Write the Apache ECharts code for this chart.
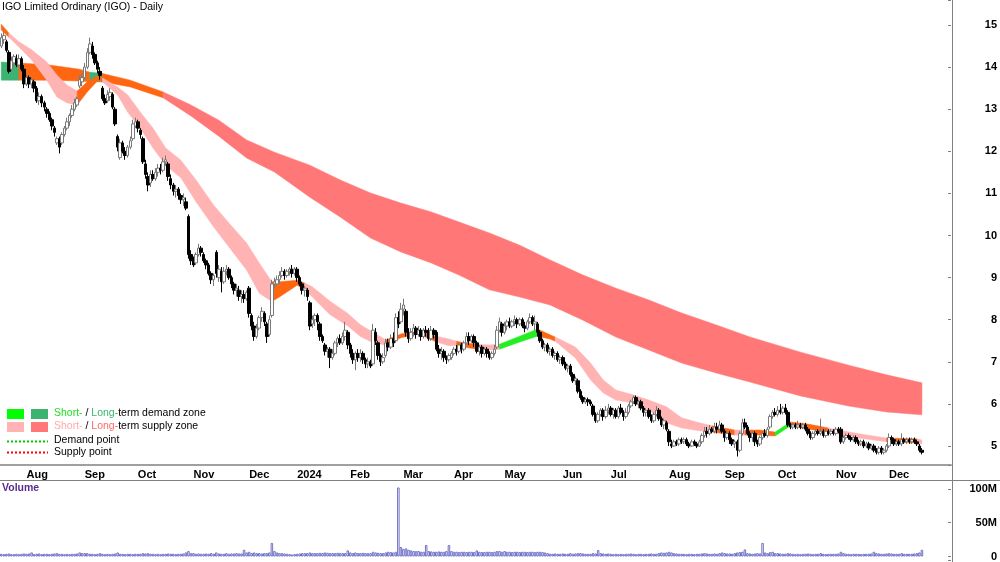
<!DOCTYPE html>
<html>
<head>
<meta charset="utf-8">
<title>IGO Limited Ordinary (IGO) - Daily</title>
<script src="https://cdn.jsdelivr.net/npm/echarts@6/dist/echarts.min.js"></script>
<style>
  html, body { margin: 0; padding: 0; background: #fff; }
  #main { width: 1000px; height: 562px; }
</style>
</head>
<body>
<div id="main"></div>
<script>
// trading days: 18 Jul 2023 .. 19 Dec 2024, plus empty days to the right edge
var months = ['Jul', 'Aug', 'Sep', 'Oct', 'Nov', 'Dec', '2024', 'Feb', 'Mar', 'Apr', 'May', 'Jun', 'Jul', 'Aug', 'Sep', 'Oct', 'Nov', 'Dec'];
var monthDays = [10, 23, 21, 22, 22, 19, 21, 21, 20, 20, 23, 19, 23, 22, 21, 23, 21, 14];
var padDays = 11;

// [open, close, low, high]
var candles = [
  // Jul 23
  [14.5,14.7,14.45,14.8],[14.65,14.75,14.55,14.85],[14.6,14.4,14.35,14.65],[14.35,13.9,13.85,14.4],[13.95,14.15,13.9,14.25],
  [14.1,14.25,14.0,14.3],[14.2,14.05,14.0,14.3],[14.05,14.2,14.0,14.3],[14.2,13.95,13.9,14.25],[13.95,13.6,13.5,14.05],
  // Aug 23
  [13.6,13.75,13.55,13.85],[13.75,13.6,13.5,13.8],[13.6,13.7,13.5,13.75],[13.65,13.5,13.4,13.7],[13.5,13.2,13.15,13.55],
  [13.2,13.3,13.1,13.4],[13.3,13.15,13.05,13.35],[13.15,13.05,12.95,13.2],[13.0,12.9,12.8,13.05],[12.9,12.75,12.7,12.95],
  [12.75,12.6,12.5,12.8],[12.55,12.45,12.35,12.6],[12.2,12.3,12.15,12.35],[12.3,12.1,11.95,12.35],[12.2,12.4,12.15,12.45],
  [12.4,12.55,12.35,12.6],[12.55,12.7,12.5,12.8],[12.7,12.85,12.6,12.9],[12.85,13.0,12.8,13.1],[13.0,13.15,12.95,13.25],
  [13.1,13.25,13.05,13.3],[13.55,13.7,13.5,13.8],[13.65,13.75,13.55,13.85],
  // Sep 23
  [13.75,14.0,13.7,14.1],[14.0,14.35,13.95,14.45],[14.35,14.55,14.3,14.7],[14.5,14.3,14.2,14.6],[14.3,14.1,14.05,14.35],
  [14.1,13.95,13.85,14.15],[13.9,13.8,13.7,14.0],[13.5,13.25,13.2,13.55],[13.25,13.15,13.1,13.35],[13.2,13.35,13.15,13.45],
  [13.3,13.4,13.2,13.5],[13.35,13.05,13.0,13.4],[13.0,12.65,12.6,13.05],[12.35,12.1,12.0,12.4],[11.85,12.2,11.8,12.3],
  [12.2,12.0,11.95,12.25],[12.0,11.9,11.8,12.1],[11.9,12.1,11.85,12.15],[12.1,12.25,12.05,12.35],[12.3,12.65,12.25,12.75],
  [12.6,12.7,12.55,12.8],
  // Oct 23
  [12.7,12.55,12.45,12.75],[12.5,12.4,12.3,12.55],[12.3,11.75,11.7,12.35],[11.7,11.45,11.35,11.8],[11.4,11.2,11.05,11.5],
  [11.25,11.45,11.15,11.55],[11.45,11.35,11.3,11.55],[11.35,11.5,11.3,11.6],[11.5,11.6,11.4,11.7],[11.6,11.55,11.45,11.7],
  [11.55,11.75,11.5,11.85],[11.75,11.8,11.65,11.9],[11.7,11.4,11.3,11.75],[11.35,11.2,11.1,11.45],[11.2,11.05,10.95,11.25],
  [11.05,11.1,10.9,11.2],[11.1,10.95,10.85,11.15],[10.95,10.85,10.75,11.0],[10.85,10.9,10.7,11.0],[10.8,10.65,10.6,10.9],
  [10.45,9.55,9.45,10.5],[9.55,9.4,9.3,9.65],
  // Nov 23
  [9.4,9.3,9.25,9.5],[9.35,9.55,9.3,9.6],[9.55,9.7,9.5,9.8],[9.7,9.6,9.5,9.75],[9.55,9.4,9.35,9.6],
  [9.4,9.3,9.2,9.45],[9.3,9.1,9.05,9.35],[9.1,8.95,8.85,9.15],[8.95,9.05,8.8,9.1],[9.6,9.1,9.0,9.65],
  [9.0,9.2,8.9,9.3],[9.15,8.9,8.65,9.25],[8.9,9.15,8.85,9.25],[9.15,9.2,9.05,9.3],[9.2,9.0,8.95,9.25],
  [9.0,8.85,8.75,9.05],[8.85,8.7,8.6,8.9],[8.7,8.75,8.55,8.85],[8.7,8.55,8.45,8.8],[8.55,8.6,8.4,8.7],
  [8.6,8.5,8.4,8.7],[8.5,8.65,8.45,8.7],
  // Dec 23
  [8.75,8.15,8.05,8.8],[8.1,7.85,7.75,8.15],[7.85,7.6,7.5,7.95],[7.6,7.8,7.55,7.9],[7.8,8.05,7.75,8.1],
  [8.05,8.2,7.95,8.3],[8.15,7.95,7.85,8.2],[7.9,7.6,7.45,7.95],[7.65,8.0,7.6,8.1],[8.1,8.85,8.05,8.95],
  [8.85,8.9,8.75,9.0],[8.85,8.95,8.8,9.05],[8.95,9.05,8.85,9.15],[9.05,9.15,9.0,9.25],[9.15,9.05,8.95,9.2],
  [9.05,9.15,9.0,9.2],[9.15,9.2,9.05,9.25],[9.2,9.1,9.0,9.3],[9.1,9.2,9.05,9.25],
  // Jan 24
  [9.2,9.0,8.9,9.25],[9.0,8.85,8.8,9.05],[8.85,8.7,8.6,8.9],[8.7,8.75,8.55,8.8],[8.7,8.55,8.45,8.75],
  [8.4,7.85,7.75,8.45],[7.9,8.0,7.8,8.1],[8.0,8.1,7.85,8.15],[8.1,7.95,7.75,8.15],[7.9,7.6,7.5,7.95],
  [7.6,7.5,7.45,7.65],[7.4,7.25,7.15,7.45],[7.25,7.3,7.1,7.35],[7.3,7.1,6.85,7.35],[7.1,7.2,7.05,7.3],
  [7.2,7.45,7.15,7.5],[7.45,7.55,7.35,7.6],[7.55,7.45,7.4,7.65],[7.45,7.6,7.4,7.7],[7.6,7.75,7.5,7.95],
  [7.7,7.4,7.3,7.75],
  // Feb 24
  [7.4,7.2,7.1,7.45],[7.2,7.05,6.95,7.3],[7.05,7.2,6.8,7.25],[7.2,7.1,7.0,7.3],[7.1,7.2,7.0,7.3],
  [7.2,7.05,6.95,7.25],[7.05,6.95,6.85,7.1],[6.95,7.0,6.85,7.1],[7.0,6.9,6.85,7.05],[6.95,7.75,6.9,7.9],
  [7.7,7.5,7.4,7.8],[7.45,7.15,7.05,7.5],[7.15,7.0,6.9,7.2],[7.0,7.1,6.95,7.2],[7.15,7.45,7.1,7.55],
  [7.45,7.35,7.25,7.55],[7.35,7.55,7.3,7.65],[7.55,7.45,7.35,7.7],[7.5,8.05,7.45,8.15],[8.05,7.9,7.8,8.2],
  [7.95,8.25,7.9,8.4],
  // Mar 24
  [8.25,8.35,8.1,8.5],[8.2,7.7,7.6,8.25],[7.7,7.55,7.45,7.8],[7.55,7.7,7.5,7.8],[7.7,7.8,7.6,7.9],
  [7.8,7.65,7.55,7.85],[7.65,7.75,7.6,7.85],[7.75,7.6,7.5,7.8],[7.6,7.75,7.55,7.8],[7.75,7.7,7.6,7.85],
  [7.7,7.55,7.5,7.8],[7.55,7.75,7.5,7.85],[7.75,7.65,7.55,7.8],[7.7,7.3,7.25,7.75],[7.3,7.2,7.1,7.4],
  [7.2,7.25,7.05,7.35],[7.25,7.1,7.0,7.3],[7.1,7.05,6.95,7.15],[7.05,7.15,7.0,7.2],[7.1,7.2,7.05,7.25],
  // Apr 24
  [7.2,7.3,7.15,7.35],[7.3,7.25,7.15,7.4],[7.25,7.4,7.2,7.45],[7.4,7.3,7.2,7.45],[7.3,7.45,7.25,7.5],
  [7.45,7.6,7.4,7.7],[7.6,7.5,7.4,7.7],[7.5,7.6,7.45,7.65],[7.6,7.45,7.35,7.65],[7.45,7.25,7.2,7.5],
  [7.25,7.35,7.15,7.4],[7.35,7.2,7.1,7.4],[7.2,7.3,7.15,7.35],[7.3,7.2,7.1,7.35],[7.2,7.1,7.05,7.25],
  [7.1,7.2,7.05,7.25],[7.2,7.3,7.15,7.4],[7.35,7.75,7.3,7.85],[7.75,7.95,7.7,8.05],[7.9,7.7,7.6,7.95],
  // May 24
  [7.7,7.85,7.65,7.95],[7.85,7.95,7.75,8.0],[7.95,7.85,7.8,8.05],[7.85,7.95,7.8,8.0],[7.95,8.0,7.85,8.1],
  [8.0,7.9,7.8,8.05],[7.9,8.0,7.85,8.05],[8.0,7.85,7.8,8.05],[7.85,7.8,7.7,7.95],[7.8,7.95,7.75,8.0],
  [7.95,8.05,7.9,8.15],[8.05,7.9,7.85,8.1],[7.9,7.95,7.75,8.1],[7.9,7.7,7.6,7.95],[7.7,7.5,7.45,7.75],
  [7.5,7.35,7.3,7.55],[7.35,7.4,7.25,7.45],[7.4,7.25,7.2,7.45],[7.25,7.3,7.15,7.35],[7.3,7.15,7.1,7.35],
  [7.15,7.2,7.05,7.25],[7.2,7.05,7.0,7.25],[7.05,7.1,6.95,7.15],
  // Jun 24
  [7.1,6.95,6.9,7.15],[6.95,6.85,6.8,7.0],[6.85,6.9,6.75,6.95],[6.9,6.7,6.65,6.95],[6.7,6.55,6.5,6.75],
  [6.55,6.6,6.45,6.65],[6.55,6.3,6.25,6.6],[6.3,6.15,6.1,6.35],[6.15,6.05,6.0,6.2],[6.05,6.1,6.0,6.15],
  [6.1,6.05,5.95,6.15],[6.05,6.0,5.95,6.1],[5.95,5.75,5.7,6.0],[5.75,5.6,5.55,5.8],[5.6,5.75,5.55,5.8],
  [5.75,5.85,5.7,5.9],[5.85,5.7,5.6,5.9],[5.7,5.85,5.65,5.95],[5.85,5.9,5.75,6.0],
  // Jul 24
  [5.9,5.75,5.7,5.95],[5.75,5.85,5.65,5.9],[5.85,5.7,5.65,5.9],[5.7,5.9,5.65,5.95],[5.9,5.8,5.75,6.0],
  [5.8,5.7,5.6,5.85],[5.7,5.8,5.65,5.9],[5.8,5.95,5.75,6.0],[5.95,6.05,5.9,6.1],[6.05,6.15,6.0,6.2],
  [6.15,6.0,5.95,6.2],[6.0,6.05,5.9,6.1],[6.05,5.9,5.85,6.1],[5.9,5.8,5.7,5.95],[5.8,5.85,5.7,5.9],
  [5.85,5.7,5.65,5.9],[5.7,5.6,5.55,5.75],[5.6,5.75,5.55,5.8],[5.75,5.85,5.7,5.95],[5.85,5.65,5.6,5.9],
  [5.65,5.5,5.45,5.7],[5.5,5.6,5.4,5.65],[5.55,5.4,5.35,5.6],
  // Aug 24
  [5.35,5.1,5.0,5.4],[5.05,5.0,4.95,5.15],[5.0,5.1,4.98,5.15],[5.1,5.05,5.0,5.15],[5.05,5.15,5.0,5.2],
  [5.15,5.1,5.05,5.2],[5.1,5.15,5.05,5.2],[5.15,5.05,5.0,5.2],[5.05,5.0,4.95,5.1],[5.0,5.1,4.98,5.15],
  [5.1,5.05,5.0,5.15],[5.05,5.0,4.95,5.1],[5.0,5.1,4.98,5.15],[5.1,5.25,5.05,5.3],[5.25,5.35,5.2,5.45],
  [5.35,5.3,5.2,5.45],[5.3,5.4,5.25,5.5],[5.4,5.35,5.3,5.45],[5.35,5.45,5.3,5.55],[5.45,5.4,5.3,5.55],
  [5.4,5.5,5.35,5.6],[5.5,5.35,5.3,5.55],
  // Sep 24
  [5.35,5.2,5.1,5.4],[5.2,5.3,5.15,5.35],[5.3,5.15,5.05,5.35],[5.15,5.05,5.0,5.2],[5.05,5.1,4.95,5.15],
  [5.1,4.9,4.75,5.15],[4.9,5.3,4.85,5.35],[5.3,5.55,5.25,5.65],[5.55,5.45,5.4,5.65],[5.45,5.3,5.25,5.5],
  [5.3,5.2,5.1,5.35],[5.2,5.3,5.1,5.35],[5.3,5.1,5.0,5.35],[5.1,5.05,4.98,5.15],[5.05,5.2,5.0,5.25],
  [5.2,5.3,5.15,5.35],[5.3,5.25,5.2,5.4],[5.25,5.4,5.2,5.45],[5.45,5.7,5.4,5.75],[5.7,5.8,5.65,5.85],
  [5.8,5.75,5.7,5.9],
  // Oct 24
  [5.75,5.85,5.7,5.95],[5.85,5.8,5.75,6.0],[5.8,5.9,5.75,5.95],[5.9,5.8,5.75,6.0],[5.8,5.5,5.45,5.85],
  [5.5,5.45,5.4,5.55],[5.45,5.5,5.4,5.55],[5.5,5.45,5.4,5.55],[5.45,5.5,5.4,5.6],[5.5,5.45,5.4,5.55],
  [5.45,5.5,5.4,5.55],[5.5,5.4,5.35,5.55],[5.4,5.3,5.25,5.45],[5.3,5.2,5.15,5.35],[5.2,5.3,5.15,5.35],
  [5.3,5.35,5.25,5.4],[5.35,5.3,5.25,5.4],[5.3,5.35,5.25,5.65],[5.35,5.25,5.2,5.4],[5.25,5.35,5.2,5.4],
  [5.35,5.3,5.25,5.4],[5.3,5.35,5.25,5.4],[5.35,5.3,5.25,5.4],
  // Nov 24
  [5.3,5.4,5.25,5.45],[5.4,5.35,5.3,5.45],[5.4,5.1,5.05,5.45],[5.1,5.2,5.05,5.25],[5.2,5.25,5.15,5.3],
  [5.25,5.2,5.15,5.3],[5.2,5.15,5.1,5.25],[5.15,5.2,5.1,5.25],[5.2,5.1,5.05,5.25],[5.1,5.05,5.0,5.15],
  [5.05,5.1,5.0,5.15],[5.1,5.0,4.95,5.15],[5.0,5.05,4.95,5.1],[5.05,4.95,4.9,5.1],[4.95,5.0,4.9,5.05],
  [5.0,4.9,4.85,5.05],[4.9,4.85,4.8,4.95],[4.85,4.95,4.8,5.0],[4.95,4.85,4.8,5.0],[4.85,4.9,4.8,4.95],
  [4.9,5.0,4.85,5.05],
  // Dec 24
  [5.0,5.2,4.95,5.3],[5.2,5.15,5.05,5.25],[5.15,5.05,5.0,5.2],[5.05,5.1,5.0,5.15],[5.1,5.05,5.0,5.15],
  [5.05,5.15,5.0,5.3],[5.15,5.1,5.05,5.2],[5.1,5.15,5.05,5.2],[5.15,5.1,5.05,5.2],[5.1,5.15,5.05,5.2],
  [5.15,5.1,5.05,5.2],[5.1,5.05,5.0,5.15],[5.0,4.9,4.85,5.05],[4.9,4.85,4.8,4.95]
];

// daily volume, millions
var volumes = [
  4,3.5,4,4.5,3.5,3.5,4,3.5,4,4.5,
  4,4.5,6,3.5,4,4.5,3.5,4,4,3.5,4,4.5,5,4,4,3.5,4,3.5,4,4,4.5,6,5,
  5,5,4,4,3.5,4,5,4,3.5,4,3.5,4,4.5,6,4,4,3.5,4,4,3.5,4,
  4,4,5,4.5,5,4,4,3.5,4,3.5,4,4,4.5,4,4,3.5,4,4,4.5,6,8,5,
  5,4,4.5,4,4,4.5,4,5,4,6,4.5,4,4,5,4,4.5,4.5,5,4.5,4.5,10,6,
  7,5,6,5,5,4.5,5,5,6,20,8,6,5,5,4.5,4,3.5,3,3.5,
  4,4.5,5,5,5,6,5,5,5,5.5,5,6,5.5,5,5,5,5.5,5,5,5,9,
  6,5,6,5,5,5.5,5,5,5,7,6,5.5,5,5,6,7,6.5,6,7,102,14,
  11,12,10,9,8,8,8,7,7,17,8,7.5,7,7,7.5,7,7,8,17,8,
  7,7,6.5,7,7,6.5,7,7,6.5,9,7,6.5,6.5,7,7,6.5,7,8,8,7,
  8,7,7,6.5,7,7,6.5,7,7,6.5,7,7,6.5,7,7,6.5,6,5,4,4,4.5,4,4,
  4.5,4,4,5,4,4.5,5,5,4.5,4,4,4,5,4.5,9.5,5,4.5,4,4.5,
  4,3.5,4,3.5,4,3.5,4,4,4.5,4,3.5,4,4,3.5,4,4,4.5,4,4,5,6,5.5,6,
  7,6,5,4.5,4,4,4,3.5,4,4,3.5,4,4,4.5,5,4.5,4,4,4.5,4,5,6,
  5,4.5,4.5,4,5,6,6.5,7,10.5,5,4.5,4,4.5,5,4.5,20,6,5,6.5,7,5,
  5,4.5,4,4,5,4.5,4,3.5,4,3.5,4,4,4.5,4,3.5,4,4,5,4,3.5,4,4,4,
  4,4.5,7,5,4,4,3.5,4,4,4,3.5,4,4,4,4.5,7,5,4.5,4,4,4.5,
  5,4.5,4,4,4,5,4,4,4,4,4.5,5,6,10
];

// bands: [day index, upper, lower, zone]
// zone: s = short-term supply, d = short-term demand, R = long-term supply, G = long-term demand, o = crossed
var shortBand = [
  [0,15.02,14.88,'o'],[3,14.81,14.71,'s'],[7,14.60,14.48,'s'],[12,14.41,14.17,'s'],[18,14.12,13.69,'s'],
  [22,13.81,13.29,'s'],[26,13.57,13.15,'s'],[30,13.43,13.10,'o'],[34,13.65,13.41,'o'],[38,13.79,13.67,'o'],
  [40,13.74,13.65,'s'],[46,13.53,13.34,'s'],[50,13.34,12.93,'s'],[55,12.93,12.55,'s'],[60,12.55,12.08,'s'],
  [65,12.08,11.67,'s'],[71,11.79,11.37,'s'],[77,11.32,10.80,'s'],[84,10.72,10.20,'s'],[90,10.30,9.73,'s'],
  [97,9.82,9.18,'s'],[102,9.35,8.63,'s'],[107,8.90,8.43,'o'],[110,8.90,8.54,'o'],[117,8.94,8.82,'o'],
  [120,8.87,8.71,'s'],[123,8.78,8.54,'s'],[130,8.44,8.12,'s'],[137,8.15,7.85,'s'],[142,7.88,7.60,'s'],
  [147,7.70,7.45,'s'],[152,7.52,7.40,'o'],[158,7.66,7.57,'o'],[165,7.76,7.66,'o'],[172,7.61,7.47,'s'],
  [177,7.54,7.38,'s'],[180,7.49,7.38,'o'],[183,7.45,7.35,'o'],[188,7.42,7.30,'s'],[193,7.40,7.28,'s'],
  [197,7.42,7.30,'d'],[205,7.61,7.47,'d'],[212,7.78,7.61,'o'],[217,7.64,7.54,'o'],[219,7.59,7.49,'s'],
  [227,7.35,7.09,'s'],[233,6.97,6.57,'s'],[238,6.57,6.26,'s'],[243,6.33,6.09,'s'],[250,6.21,6.02,'s'],
  [256,6.09,5.86,'s'],[263,5.93,5.55,'s'],[269,5.67,5.43,'s'],[276,5.55,5.36,'s'],[281,5.48,5.33,'o'],
  [290,5.38,5.26,'s'],[294,5.38,5.26,'o'],[300,5.38,5.26,'o'],[306,5.33,5.24,'d'],[312,5.57,5.48,'o'],
  [319,5.52,5.40,'o'],[327,5.43,5.33,'s'],[339,5.29,5.19,'s'],[350,5.19,5.10,'o'],[362,5.17,5.07,'s'],
  [364,5.14,5.05,'s']
];
var longBand = [
  [0,14.12,13.69,'G'],[7,14.10,13.69,'o'],[19,14.05,13.69,'o'],[31,13.95,13.67,'o'],[35,13.88,13.65,'G'],
  [40,13.85,13.65,'o'],[51,13.69,13.53,'o'],[64,13.41,13.27,'R'],[75,13.10,12.84,'R'],[86,12.74,12.36,'R'],
  [97,12.27,11.84,'R'],[108,11.98,11.51,'R'],[122,11.67,10.91,'R'],[134,11.32,10.44,'R'],[146,11.01,9.94,'R'],
  [158,10.77,9.61,'R'],[170,10.56,9.35,'R'],[181,10.32,9.06,'R'],[193,10.06,8.71,'R'],[205,9.77,8.54,'R'],
  [217,9.42,8.35,'R'],[230,9.06,7.99,'R'],[243,8.75,7.59,'R'],[256,8.47,7.28,'R'],[269,8.16,6.97,'R'],
  [283,7.87,6.73,'R'],[296,7.59,6.52,'R'],[316,7.23,6.19,'R'],[335,6.92,5.95,'R'],[350,6.69,5.81,'R'],
  [364,6.50,5.74,'R']
];

var zoneColors = { s: '#ffb3b3', d: '#22ee22', R: '#ff7777', G: '#3cb371', o: '#ff6611' };
var FONT = '"Liberation Sans", Arial, sans-serif';

// categories and month starts
var cats = [], monthStart = {};
months.forEach(function (m, k) {
  for (var d = 0; d < monthDays[k]; d++) {
    if (d === 0 && k > 0) monthStart[cats.length] = m;
    cats.push(k + '-' + d);
  }
});
for (var p = 0; p < padDays; p++) cats.push('pad' + p);

// one polygon per run of equal zone, so no seams inside a run
function bandSeries(pts) {
  return {
    type: 'custom',
    xAxisIndex: 0,
    yAxisIndex: 0,
    silent: true,
    z: 1,
    data: pts.map(function (q) { return [q[0], q[1], q[2]]; }),
    encode: { x: 0, y: [1, 2] },
    renderItem: function (params, api) {
      var k = params.dataIndex;
      if (k >= pts.length - 1) return null;
      if (k > 0 && pts[k - 1][3] === pts[k][3]) return null;
      var end = k + 1;
      while (end < pts.length - 1 && pts[end][3] === pts[k][3]) end++;
      var top = [], bottom = [];
      for (var j = k; j <= end; j++) {
        top.push(api.coord([pts[j][0], pts[j][1]]));
        bottom.unshift(api.coord([pts[j][0], pts[j][2]]));
      }
      var c = zoneColors[pts[k][3]];
      return {
        type: 'polygon',
        shape: { points: top.concat(bottom) },
        style: { fill: c, stroke: c, lineWidth: 0.5 }
      };
    }
  };
}

var isMonth = function (i) { return monthStart[i] != null; };

var chart = echarts.init(document.getElementById('main'));
chart.setOption({
  animation: false,
  backgroundColor: '#ffffff',
  grid: [
    { left: 0, top: 0, width: 952, height: 465 },
    { left: 0, top: 480, width: 952, height: 82 }
  ],
  xAxis: [
    {
      type: 'category', gridIndex: 0, data: cats, boundaryGap: true,
      axisLine: { lineStyle: { color: '#a0a0a0', width: 2 } },
      axisTick: { interval: isMonth, length: 3, lineStyle: { color: '#808080' } },
      axisLabel: {
        interval: isMonth, align: 'left', margin: 4,
        fontFamily: FONT, fontSize: 11, fontWeight: 'bold', color: '#000',
        formatter: function (v, i) { return monthStart[i] || ''; }
      },
      splitLine: { show: false }
    },
    { type: 'category', gridIndex: 1, data: cats, boundaryGap: true, show: false }
  ],
  yAxis: [
    {
      type: 'value', gridIndex: 0, position: 'right',
      min: 4.549, max: 15.594, minInterval: 1, maxInterval: 1,
      axisLine: { show: false },
      axisTick: { show: true, inside: true, length: 3, lineStyle: { color: '#808080' } },
      axisLabel: {
        align: 'right', margin: 46, fontFamily: FONT, fontSize: 11, fontWeight: 'bold', color: '#000',
        formatter: function (v) { return Math.abs(v - Math.round(v)) < 1e-6 ? String(Math.round(v)) : ''; }
      },
      splitLine: { show: false }
    },
    {
      type: 'value', gridIndex: 1, position: 'right',
      min: -5.8, max: 113, minInterval: 50, maxInterval: 50,
      axisLine: { show: false },
      axisTick: { show: true, inside: true, length: 3, lineStyle: { color: '#808080' } },
      axisLabel: {
        align: 'right', margin: 46, fontFamily: FONT, fontSize: 11, fontWeight: 'bold', color: '#000',
        formatter: function (v) {
          if (Math.abs(v) < 1e-6) return '0';
          return Math.abs(v % 50) < 1e-6 ? v + 'M' : '';
        }
      },
      splitLine: { show: false }
    }
  ],
  series: [
    bandSeries(longBand),
    bandSeries(shortBand),
    {
      type: 'candlestick', xAxisIndex: 0, yAxisIndex: 0, z: 3,
      data: candles, barWidth: 3,
      itemStyle: { color: '#ffffff', color0: '#000000', borderColor: '#7a7a7a', borderColor0: '#000000', borderWidth: 1 }
    },
    {
      type: 'bar', xAxisIndex: 1, yAxisIndex: 1,
      data: volumes, barCategoryGap: '0%',
      itemStyle: { color: 'rgba(255,255,255,0)', borderColor: '#7070c8', borderWidth: 1 }
    }
  ],
  graphic: [
    { type: 'line', shape: { x1: 952.5, y1: 0, x2: 952.5, y2: 562 }, style: { stroke: '#808080', lineWidth: 1 } },
    { type: 'line', shape: { x1: 0, y1: 480.5, x2: 1000, y2: 480.5 }, style: { stroke: '#808080', lineWidth: 1 } },
    { type: 'text', left: 2, top: 2, style: { text: 'IGO Limited Ordinary (IGO) - Daily', fill: '#000', font: '10.5px ' + FONT } },
    { type: 'text', left: 2, top: 483, style: { text: 'Volume', fill: '#5b2c8f', font: 'bold 10.5px ' + FONT } },
    // legend
    { type: 'rect', shape: { x: 7, y: 409, width: 17, height: 10 }, style: { fill: '#00ff00' } },
    { type: 'rect', shape: { x: 31, y: 409, width: 17, height: 10 }, style: { fill: '#3cb371' } },
    { type: 'rect', shape: { x: 7, y: 422, width: 17, height: 10 }, style: { fill: '#ffb3b3' } },
    { type: 'rect', shape: { x: 31, y: 422, width: 17, height: 10 }, style: { fill: '#ff7777' } },
    { type: 'line', shape: { x1: 7, y1: 441.5, x2: 48, y2: 441.5 }, style: { stroke: '#00cc00', lineWidth: 2, lineDash: [2, 2] } },
    { type: 'line', shape: { x1: 7, y1: 452.5, x2: 48, y2: 452.5 }, style: { stroke: '#ff0000', lineWidth: 2, lineDash: [2, 2] } },
    {
      type: 'text', left: 54, top: 408,
      style: {
        text: '{a|Short-} / {b|Long-}term demand zone', fill: '#000', font: '10.5px ' + FONT,
        rich: { a: { fill: '#22dd22', font: '10.5px ' + FONT }, b: { fill: '#3cb371', font: '10.5px ' + FONT } }
      }
    },
    {
      type: 'text', left: 54, top: 421,
      style: {
        text: '{a|Short-} / {b|Long-}term supply zone', fill: '#000', font: '10.5px ' + FONT,
        rich: { a: { fill: '#ffaaaa', font: '10.5px ' + FONT }, b: { fill: '#ff6a6a', font: '10.5px ' + FONT } }
      }
    },
    { type: 'text', left: 54, top: 435, style: { text: 'Demand point', fill: '#000', font: '10.5px ' + FONT } },
    { type: 'text', left: 54, top: 447, style: { text: 'Supply point', fill: '#000', font: '10.5px ' + FONT } }
  ]
});
</script>
</body>
</html>
